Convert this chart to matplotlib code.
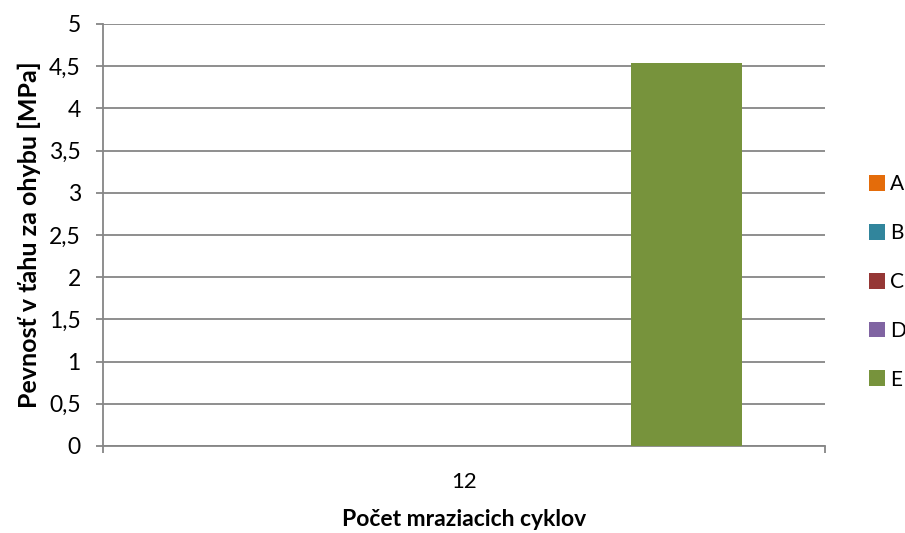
import matplotlib
matplotlib.use("Agg")
import matplotlib.pyplot as plt
from matplotlib.ticker import FuncFormatter, MultipleLocator

categories = ["12"]
series_names = ["A", "B", "C", "D", "E"]
series_values = {
    "A": [0.0],
    "B": [0.0],
    "C": [0.0],
    "D": [0.0],
    "E": [4.54],
}
colors = ["#E46C0A", "#31859C", "#953735", "#8064A2", "#77933C"]

plt.rcParams['font.family'] = ['Lato', 'DejaVu Sans']

fig = plt.figure(figsize=(9.05, 5.33), dpi=100)
ax = fig.add_axes([103/905, 1-446/533, (825-103)/905, (446-24)/533])

n = len(series_names)
gap = 1.5
w = 1.0 / (n + gap)
start = -0.5 + gap * w / 2
for i, name in enumerate(series_names):
    xs = [j + start + (i + 0.5) * w for j in range(len(categories))]
    ax.bar(xs, series_values[name], width=w, color=colors[i], label=name, linewidth=0, zorder=3)

ax.set_xlim(-0.5, len(categories) - 0.5)
ax.set_ylim(0, 5)
ax.yaxis.set_major_locator(MultipleLocator(0.5))
ax.yaxis.set_major_formatter(FuncFormatter(lambda v, p: ("%g" % v).replace(".", ",")))
ax.set_xticks(range(len(categories)))
ax.set_xticklabels(categories)

ax.grid(axis='y', color='#868686', linewidth=1.3, zorder=0)
for s in ['top', 'right']:
    ax.spines[s].set_visible(False)
for s in ['left', 'bottom']:
    ax.spines[s].set_color('#868686')
    ax.spines[s].set_linewidth(1.3)

ax.tick_params(axis='y', length=5, width=1.3, color='#868686', labelsize=16.5, pad=11)
ax.tick_params(axis='x', length=0, labelsize=16, pad=19)
ax.set_xticks([-0.5, 0.5], minor=True)
ax.tick_params(axis='x', which='minor', length=5, width=1.3, color='#868686')

ax.set_ylabel("Pevnosť v ťahu za ohybu [MPa]", fontsize=18, fontweight='bold', labelpad=6)
ax.set_xlabel("Počet mraziacich cyklov", fontsize=16.5, fontweight='bold', labelpad=12)

leg = ax.legend(loc='center left', bbox_to_anchor=(850/905, 1 - 282/533),
                bbox_transform=fig.transFigure, frameon=False,
                fontsize=15, handlelength=0.78, handleheight=0.78, handletextpad=0.25,
                labelspacing=1.38)

fig.savefig("out.png", dpi=100)
